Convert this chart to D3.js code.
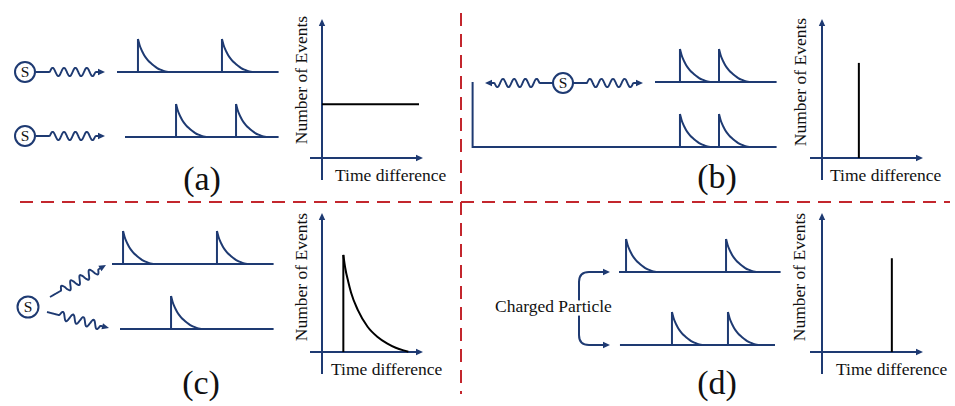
<!DOCTYPE html>
<html>
<head>
<meta charset="utf-8">
<script src="https://cdn.jsdelivr.net/npm/d3@7"></script>
<style>
  html, body { margin: 0; padding: 0; background: #fff; }
  svg { display: block; }
  text { font-family: "Liberation Serif", "Times New Roman", serif; fill: #111; }
</style>
</head>
<body>
<script>
// ---------------- DATA ----------------
const panelLabels = ["(a)", "(b)", "(c)", "(d)"];
const yAxisLabel = "Number of Events";
const xAxisLabel = "Time difference";
const particleLabel = "Charged Particle";
const sourceLabel = "S";

// normalized pulse shape: [time after onset, relative amplitude]
const pulseShapeT = [0, 1, 2, 3, 4, 6, 8, 10, 12, 14, 16, 18, 20];
const pulseShapeA = [1, 0.82, 0.69, 0.59, 0.5, 0.37, 0.27, 0.19, 0.12, 0.07, 0.035, 0.01, 0];

// detector traces: spans [start, end] and pulse onset times (time units)
const aTopSpan = [0, 101],   aTopPulses = [13.1, 65.6];
const aBotSpan = [5, 101],   aBotPulses = [36.9, 74.4];
const bTopSpan = [0, 76],    bTopPulses = [15.6, 40];
const bBotSpan = [-114, 76], bBotPulses = [15.6, 40];
const cTopSpan = [0, 101],   cTopPulses = [6.9, 65.6];
const cBotSpan = [5, 101],   cBotPulses = [36.9];
const dTopSpan = [0, 101],   dTopPulses = [4.4, 66.9];
const dBotSpan = [0.6, 97.5],dBotPulses = [33.1, 68.1];

// time-difference histograms
const histAFlatX = [0, 10];
const histAFlatY = [4.05, 4.05];
const histBSpikeX = [3.8], histBSpikeY = [7.15];
const histCDecayX = [2.2, 2.4, 2.7, 3.0, 3.7, 4.7, 5.7, 6.7, 7.6, 8.4, 8.9];
const histCDecayY = [7.3, 6.3, 5.3, 4.45, 3.15, 1.9, 1.15, 0.65, 0.32, 0.12, 0.02];
const histDSpikeX = [7.2], histDSpikeY = [7.05];

// ---------------- STYLE ----------------
const NAVY = "#1e3a72";
const RED = "#c3262d";

const svg = d3.select("body").append("svg")
  .attr("width", 955).attr("height", 406);

// ---------------- HELPERS ----------------
function arrowHead(g, tx, ty, ux, uy, color) {
  const len = 7, hw = 3.2;
  const bx = tx - ux * len, by = ty - uy * len;
  const nx = -uy, ny = ux;
  g.append("path")
    .attr("d", `M${tx},${ty}L${bx + nx * hw},${by + ny * hw}L${bx - nx * hw},${by - ny * hw}Z`)
    .attr("fill", color);
}

function wave(g, x1, y1, x2, y2, cycles) {
  const dx = x2 - x1, dy = y2 - y1, L = Math.hypot(dx, dy);
  const ux = dx / L, uy = dy / L;
  let nx = uy, ny = -ux;
  if (ny > 0 || (ny === 0 && nx > 0)) { nx = -nx; ny = -ny; }
  const lead = 0.2 * L, wEnd = 0.86 * L, A = 4.2;
  const pts = [];
  for (let s = 0; s <= L - 5; s += 0.5) {
    let o = 0;
    if (s > lead && s < wEnd) o = A * Math.sin(2 * Math.PI * cycles * (s - lead) / (wEnd - lead));
    pts.push([x1 + ux * s + nx * o, y1 + uy * s + ny * o]);
  }
  g.append("path").attr("d", d3.line().curve(d3.curveBasis)(pts))
    .attr("fill", "none").attr("stroke", NAVY).attr("stroke-width", 1.9)
    .attr("stroke-linejoin", "round");
  arrowHead(g, x2, y2, ux, uy, NAVY);
}

function source(g, cx, cy, r) {
  g.append("circle").attr("cx", cx).attr("cy", cy).attr("r", r)
    .attr("fill", "#fff").attr("stroke", NAVY).attr("stroke-width", 2);
  g.append("text").attr("x", cx).attr("y", cy + 5.2)
    .attr("text-anchor", "middle").attr("font-size", 15.5).text(sourceLabel);
}

function trace(g, x, y0, span, pulses) {
  const amp = d3.scaleLinear().domain([0, 1]).range([y0, y0 - 33]);
  g.append("line")
    .attr("x1", x(span[0])).attr("x2", x(span[1]))
    .attr("y1", y0).attr("y2", y0)
    .attr("stroke", NAVY).attr("stroke-width", 2);
  const decay = d3.line().x(d => d[0]).y(d => d[1]).curve(d3.curveMonotoneX);
  pulses.forEach(t => {
    g.append("line")
      .attr("x1", x(t)).attr("x2", x(t))
      .attr("y1", amp(0)).attr("y2", amp(1))
      .attr("stroke", NAVY).attr("stroke-width", 2);
    const pts = pulseShapeT.map((dt, i) => [x(t + dt), amp(pulseShapeA[i])]);
    g.append("path").attr("d", decay(pts))
      .attr("fill", "none").attr("stroke", NAVY).attr("stroke-width", 2);
  });
}

function histAxes(g, ox, oy, labelX, labelBaseY, yLabelX, yLabelCY) {
  g.append("line").attr("x1", ox).attr("x2", ox)
    .attr("y1", oy + 22).attr("y2", oy - 134)
    .attr("stroke", NAVY).attr("stroke-width", 2);
  arrowHead(g, ox, oy - 139, 0, -1, NAVY);
  g.append("line").attr("x1", ox - 12).attr("x2", ox + 96)
    .attr("y1", oy).attr("y2", oy)
    .attr("stroke", NAVY).attr("stroke-width", 2);
  arrowHead(g, ox + 101, oy, 1, 0, NAVY);
  g.append("text").attr("x", labelX).attr("y", labelBaseY)
    .attr("font-size", 17.5).text(xAxisLabel);
  g.append("text")
    .attr("transform", `translate(${yLabelX},${yLabelCY}) rotate(-90)`)
    .attr("text-anchor", "middle").attr("font-size", 17.5).text(yAxisLabel);
  return {
    x: d3.scaleLinear().domain([0, 10]).range([ox, ox + 97]),
    y: d3.scaleLinear().domain([0, 10]).range([oy, oy - 133])
  };
}

function spike(g, s, xs, ys) {
  xs.forEach((v, i) => {
    g.append("line").attr("x1", s.x(v)).attr("x2", s.x(v))
      .attr("y1", s.y(0)).attr("y2", s.y(ys[i]))
      .attr("stroke", "#000").attr("stroke-width", 2);
  });
}

// time scale: 1 time unit = 1.6 px, origin per panel
const tScale = (origin) => d3.scaleLinear().domain([0, 100]).range([origin, origin + 160]);

// ---------------- DIVIDERS ----------------
svg.append("line").attr("x1", 20).attr("x2", 950).attr("y1", 202).attr("y2", 202)
  .attr("stroke", RED).attr("stroke-width", 2).attr("stroke-dasharray", "13,8");
svg.append("line").attr("x1", 461).attr("x2", 461).attr("y1", 13).attr("y2", 394)
  .attr("stroke", RED).attr("stroke-width", 2).attr("stroke-dasharray", "13,8");

// ---------------- PANEL (a) ----------------
{
  const g = svg.append("g");
  const x = tScale(117);
  trace(g, x, 72, aTopSpan, aTopPulses);
  trace(g, x, 137, aBotSpan, aBotPulses);
  wave(g, 36, 72, 105, 72, 4);
  wave(g, 36, 136, 105, 136, 4);
  source(g, 25, 72, 10);
  source(g, 25, 136, 10);
  const s = histAxes(g, 322, 158, 335, 181, 307, 80);
  g.append("path")
    .attr("d", d3.line().x(d => s.x(d)).y((d, i) => s.y(histAFlatY[i]))(histAFlatX))
    .attr("fill", "none").attr("stroke", "#000").attr("stroke-width", 2);
  g.append("text").attr("x", 202).attr("y", 190).attr("text-anchor", "middle")
    .attr("font-size", 34).text(panelLabels[0]);
}

// ---------------- PANEL (b) ----------------
{
  const g = svg.append("g");
  const x = tScale(655);
  trace(g, x, 82, bTopSpan, bTopPulses);
  trace(g, x, 147, bBotSpan, bBotPulses);
  g.append("line").attr("x1", x(bBotSpan[0])).attr("x2", x(bBotSpan[0]))
    .attr("y1", 82).attr("y2", 148)
    .attr("stroke", NAVY).attr("stroke-width", 2);
  wave(g, 553, 83, 485, 83, 4);
  wave(g, 573, 83, 643, 83, 4);
  source(g, 563, 83, 10);
  const s = histAxes(g, 822, 158, 830, 181, 806, 82);
  spike(g, s, histBSpikeX, histBSpikeY);
  g.append("text").attr("x", 717).attr("y", 188).attr("text-anchor", "middle")
    .attr("font-size", 34).text(panelLabels[1]);
}

// ---------------- PANEL (c) ----------------
{
  const g = svg.append("g");
  const x = tScale(112);
  trace(g, x, 264, cTopSpan, cTopPulses);
  trace(g, x, 329, cBotSpan, cBotPulses);
  wave(g, 50, 297, 106, 265, 4);
  wave(g, 47, 312, 109, 328, 4);
  source(g, 28, 307, 10.5);
  const s = histAxes(g, 322, 352, 331, 375, 307, 277);
  spike(g, s, [histCDecayX[0]], [histCDecayY[0]]);
  g.append("path")
    .attr("d", d3.line().x(d => s.x(d)).y((d, i) => s.y(histCDecayY[i])).curve(d3.curveMonotoneX)(histCDecayX))
    .attr("fill", "none").attr("stroke", "#000").attr("stroke-width", 2);
  g.append("text").attr("x", 201).attr("y", 394).attr("text-anchor", "middle")
    .attr("font-size", 34).text(panelLabels[2]);
}

// ---------------- PANEL (d) ----------------
{
  const g = svg.append("g");
  const x = tScale(619);
  trace(g, x, 272, dTopSpan, dTopPulses);
  trace(g, x, 345, dBotSpan, dBotPulses);
  g.append("path")
    .attr("d", "M604,272H589Q579,272 579,282V335Q579,345 589,345H604")
    .attr("fill", "none").attr("stroke", NAVY).attr("stroke-width", 2);
  arrowHead(g, 610, 272, 1, 0, NAVY);
  arrowHead(g, 610, 345, 1, 0, NAVY);
  g.append("text").attr("x", 495).attr("y", 312)
    .attr("font-size", 17.5)
    .attr("stroke", "#fff").attr("stroke-width", 7).attr("paint-order", "stroke")
    .attr("stroke-linejoin", "round")
    .text(particleLabel);
  const s = histAxes(g, 822, 352, 836, 375, 805, 277);
  spike(g, s, histDSpikeX, histDSpikeY);
  g.append("text").attr("x", 717).attr("y", 394).attr("text-anchor", "middle")
    .attr("font-size", 34).text(panelLabels[3]);
}
</script>
</body>
</html>
